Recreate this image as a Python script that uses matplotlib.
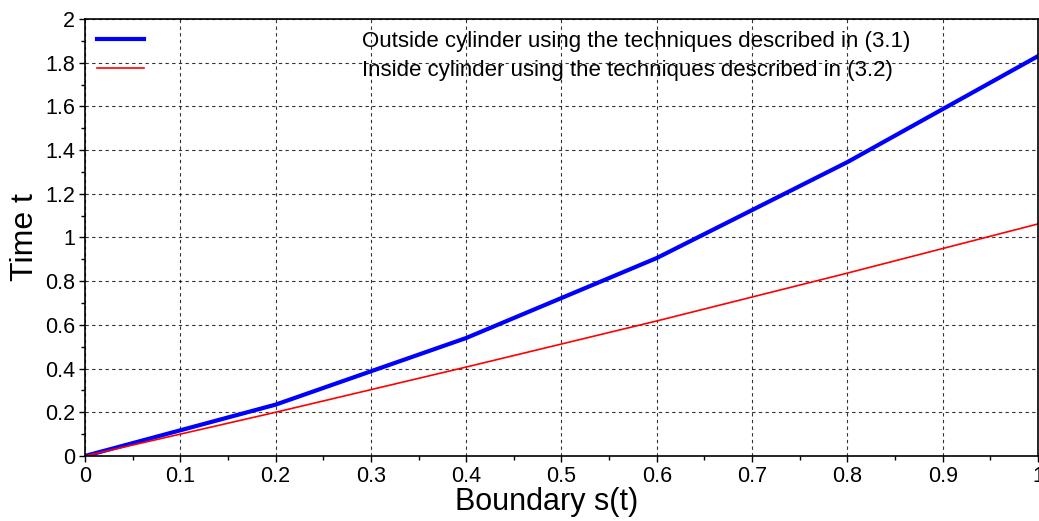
import matplotlib.pyplot as plt
import matplotlib as mpl
import numpy as np

plt.rcParams['font.family'] = ['Liberation Sans', 'DejaVu Sans']

# data
s = [0.0, 0.2, 0.4, 0.6, 0.8, 1.0]
t_outside = [0.0, 0.235, 0.54, 0.906, 1.345, 1.83]
t_inside = [0.0, 0.2, 0.407, 0.618, 0.837, 1.062]
labels = ["Outside cylinder using the techniques described in (3.1)",
          "Inside cylinder using the techniques described in (3.2)"]

fig = plt.figure(figsize=(10.39, 5.21), dpi=100)
ax = fig.add_axes([0.0818, 0.1248, 0.9172, 0.8387])

ax.plot(s, t_outside, color="#0000ff", linewidth=3.0, label=labels[0])
ax.plot(s, t_inside, color="#ff0000", linewidth=1.2, label=labels[1])

ax.set_xlim(0, 1)
ax.set_ylim(0, 2)
ax.set_xticks(np.arange(0, 1.01, 0.1))
ax.set_yticks(np.arange(0, 2.01, 0.2))
ax.xaxis.set_minor_locator(mpl.ticker.MultipleLocator(0.05))
ax.yaxis.set_minor_locator(mpl.ticker.MultipleLocator(0.1))
ax.xaxis.set_major_formatter(mpl.ticker.FormatStrFormatter('%g'))
ax.yaxis.set_major_formatter(mpl.ticker.FormatStrFormatter('%g'))
ax.tick_params(which='major', direction='out', length=4, labelsize=15.5, width=1, pad=3)
ax.tick_params(which='minor', direction='out', length=3, width=1)
ax.grid(True, which='major', color='black', linestyle=(0, (3, 3)), linewidth=0.8, alpha=0.8)

for sp in ax.spines.values():
    sp.set_linewidth(1.2)

ax.set_xlabel("Boundary s(t)", fontsize=22, labelpad=0)
ax.xaxis.set_label_coords(0.484, -0.07)
ax.set_ylabel("Time t", fontsize=23, labelpad=4)

ax.legend(loc='upper left', bbox_to_anchor=(0.0, 1.0), frameon=False, fontsize=16,
          handlelength=2.1, handletextpad=9.8, labelspacing=0.33, borderaxespad=0.3,
          borderpad=0.25)

plt.savefig("out.png", dpi=100)
